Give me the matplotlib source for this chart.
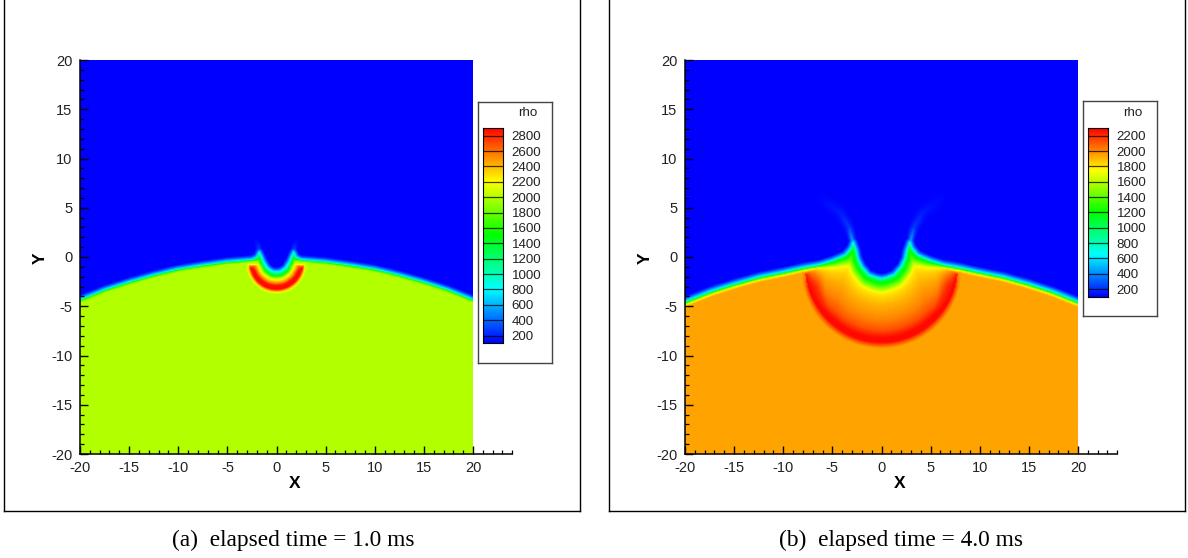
import numpy as np
import matplotlib
matplotlib.use("Agg")
import matplotlib.pyplot as plt
from matplotlib.colors import LinearSegmentedColormap, Normalize
from matplotlib.lines import Line2D
from matplotlib.ticker import MultipleLocator

W, H = 1188, 558
RANGE_A = (100, 2900)
RANGE_B = (100, 2300)
LEVELS_A = list(range(200, 3000, 200))
LEVELS_B = list(range(200, 2400, 200))

# free-surface profile, right half (mirrored)
SURF_X_A = [0, 0.4, 0.9, 1.3, 1.5, 1.75, 2.0, 2.5, 5, 7.5, 10, 12.5, 15, 17.5, 20]
SURF_Y_A = [-1.5, -1.45, -1.1, -0.5, 0.0, 0.5, 0.0, -0.25, -0.45, -0.8, -1.2, -1.8, -2.5, -3.3, -4.3]
SURF_X_B = [0, 0.5, 1.3, 2.0, 2.4, 2.6, 2.9, 3.1, 3.7, 5, 6.3, 8, 10, 12.5, 15, 17.5, 20]
SURF_Y_B = [-2.2, -2.1, -1.8, -1.0, -0.2, 0.7, 1.5, 0.9, 0.2, -0.35, -0.75, -1.05, -1.5, -2.0, -2.7, -3.5, -4.5]

# shock front: centre height, radius
SHOCK_A = (-0.65, 2.8)
SHOCK_B = (-1.1, 7.8)
LIQUID_A = 1990
LIQUID_B = 1945

# density across the shocked shell (0 = crater wall, 1 = front)
SHELL_T_A = [0, 0.22, 0.42, 0.58, 0.72, 0.90, 1.0]
SHELL_RHO_A = [800, 1500, 2200, 2500, 2850, 2880, 2500]
SHELL_T_B = [0, 0.02, 0.09, 0.22, 0.30, 0.42, 0.62, 0.78, 0.90, 0.97, 1.0]
SHELL_RHO_B = [650, 1000, 1250, 1780, 1850, 1920, 2010, 2120, 2280, 2280, 2150]

# density just behind the front, by distance from it
EDGE_A = [0, 0.15, 0.5, 0.9, 1.3]
EDGE_RHO_A = [2500, 2880, 2700, 2250, 1800]
EDGE_B = [0, 0.25, 0.9, 1.9, 3.0]
EDGE_RHO_B = [2150, 2280, 2200, 1950, 1700]
# height below the shock centre over which the thick band fades in
EDGE_FADE_A = 0.5
EDGE_FADE_B = 2.0

# density across the free surface (signed depth)
DEPTH_A = [-0.45, -0.25, 0, 0.12, 0.3]
DEPTH_RHO_A = [100, 350, 800, 1500, LIQUID_A]
DEPTH_B = [-0.5, -0.25, 0, 0.15, 0.35, 0.55]
DEPTH_RHO_B = [100, 350, 650, 1200, 1750, LIQUID_B]

# faint plumes above the right rim (mirrored): path, peak density, half width
PLUME_X_A = [1.75, 1.85, 2.0]
PLUME_Y_A = [0.4, 1.0, 1.6]
PLUME_PEAK_A = [500, 260, 110]
PLUME_W_A = [0.3, 0.45, 0.6]
PLUME_X_B = [2.9, 3.3, 4.2, 6.5]
PLUME_Y_B = [1.4, 3.0, 4.5, 6.2]
PLUME_PEAK_B = [560, 240, 165, 105]
PLUME_W_B = [0.4, 0.7, 1.0, 1.5]

CMAP = LinearSegmentedColormap.from_list(
    "small_rainbow", ["#0000ff", "#00ffff", "#00ff00", "#ffff00", "#ff0000"])


def seg_dist(X, Y, x0, y0, x1, y1):
    dx, dy = x1 - x0, y1 - y0
    t = np.clip(((X - x0) * dx + (Y - y0) * dy) / (dx * dx + dy * dy + 1e-12), 0, 1)
    return np.hypot(X - x0 - t * dx, Y - y0 - t * dy)


def field(sx, sy, shock, liquid, st, srho, ed, edrho, fade, dpt, drho, px, py, pp, pw):
    xs = np.r_[-np.array(sx)[::-1], np.array(sx)[1:]]
    ys = np.r_[np.array(sy)[::-1], np.array(sy)[1:]]
    g = np.linspace(-20, 20, 321)
    X, Y = np.meshgrid(g, g)
    D = np.full(X.shape, 1e9)
    for i in range(len(xs) - 1):
        D = np.minimum(D, seg_dist(X, Y, xs[i], ys[i], xs[i + 1], ys[i + 1]))
    d = np.where(Y < np.interp(X, xs, ys), D, -D)
    yc, R = shock
    e = R - np.hypot(X, Y - yc)
    base = np.interp(d, dpt, drho)
    dp = np.clip(d, 0, None)
    t = dp / np.maximum(dp + np.clip(e, 0, None), 1e-6)
    cap = np.interp(d, dpt[:-1] + [dpt[-1] * 1.5], drho[:-1] + [srho[-2]])
    weight = np.clip((yc - Y) / fade, 0, 1)
    tval = np.interp(t, st, srho)
    edge = np.where(e > ed[-1], 0, np.interp(e, ed, edrho))
    shell = tval + np.clip(edge - tval, 0, None) * weight
    shell = np.minimum(shell, liquid + (3000 - liquid) * weight)
    shell = np.minimum(shell, cap)
    w = 0.22 * (R ** 0.3)
    outer = srho[-1] + (liquid - srho[-1]) * np.clip(-e / w, 0, 1)
    outer = liquid + (outer - liquid) * weight
    rho = np.where(e > 0, shell, np.minimum(outer, cap))
    rho = np.where((d > 0) & (e > -w), rho, base)
    u = np.linspace(0, len(px) - 1, 40)
    idx = np.arange(len(px))
    sxp, syp = np.interp(u, idx, px), np.interp(u, idx, py)
    spk, swd = np.interp(u, idx, pp), np.interp(u, idx, pw)
    for sgn in (-1, 1):
        for a, b, p, q in zip(sxp, syp, spk, swd):
            r = np.hypot(X - sgn * a, Y - b) / q
            pl = 100 + (p - 100) * np.clip(1 - r, 0, 1) ** 1.5
            rho = np.where(d < 0, np.maximum(rho, pl), rho)
    return rho


plt.rcParams["font.family"] = ["Liberation Sans", "DejaVu Sans"]
plt.rcParams["axes.unicode_minus"] = False
fig = plt.figure(figsize=(W / 100, H / 100), dpi=100, facecolor="white")


def rect(l, t, r, b):
    return [l / W, 1 - b / H, (r - l) / W, (b - t) / H]


def panel(x0, rho, rng, levels, legend_bottom, bar_bottom, caption, cap_x):
    # outer frame
    fx0, fx1 = x0 - 76, x0 + 500
    for xa, ya, xb, yb in [(fx0, 0, fx0, 511), (fx0, 511, fx1, 511), (fx1, 511, fx1, 0)]:
        fig.add_artist(Line2D([xa / W, xb / W], [1 - ya / H, 1 - yb / H], color="black", lw=1.0))

    # plot: the x axis runs on to 24, past the field
    ax = fig.add_axes(rect(x0, 60, x0 + 432.3, 454))
    norm = Normalize(*rng)
    ax.imshow(rho, extent=(-20, 20, -20, 20), origin="lower", cmap=CMAP, norm=norm,
              interpolation="bilinear", aspect="auto", zorder=0)
    ax.set_xlim(-20, 24)
    ax.set_ylim(-20, 20)
    for s in ("top", "right"):
        ax.spines[s].set_visible(False)
    for s in ("left", "bottom"):
        ax.spines[s].set_linewidth(1.1)
    ax.patch.set_alpha(0)
    ax.set_xticks(range(-20, 25, 5))
    ax.set_xticklabels([str(v) if v <= 20 else "" for v in range(-20, 25, 5)])
    ax.set_yticks(range(-20, 25, 5))
    ax.xaxis.set_minor_locator(MultipleLocator(1))
    ax.yaxis.set_minor_locator(MultipleLocator(1))
    ax.tick_params(axis="both", which="major", direction="in", length=6, width=1.0,
                   labelsize=10.5, labelcolor="#222222")
    ax.tick_params(axis="x", which="major", pad=4.8)
    ax.tick_params(axis="y", which="major", pad=5.6)
    ax.tick_params(axis="both", which="minor", direction="in", length=2.6, width=0.9)
    ax.set_xlabel("X", fontsize=12.5, fontweight="bold")
    ax.xaxis.set_label_coords(215 / 432.3, -0.057)
    ax.set_ylabel("Y", fontsize=12.5, fontweight="bold")
    ax.yaxis.set_label_coords(-0.075, 0.497)

    # legend box
    bx = fig.add_axes(rect(x0 + 398, 101.5, x0 + 471.5, legend_bottom))
    bx.set_xticks([])
    bx.set_yticks([])
    for s in bx.spines.values():
        s.set_linewidth(1.0)
        s.set_color("#444444")
    bx.text(0.68, 1 - 11.5 / (legend_bottom - 101.5), "rho", transform=bx.transAxes,
            ha="center", va="center", fontsize=9.6, color="#222222")

    # colour bar
    cb = fig.add_axes(rect(x0 + 403.3, 128, x0 + 423.3, bar_bottom))
    grad = np.linspace(rng[0], rng[1], 256).reshape(-1, 1)
    cb.imshow(grad, extent=(0, 1, rng[0], rng[1]), origin="lower", cmap=CMAP, norm=norm,
              aspect="auto", interpolation="bilinear")
    cb.hlines(levels, 0, 1, color="black", lw=0.9, alpha=0.75)
    cb.set_xticks([])
    cb.set_ylim(*rng)
    cb.yaxis.tick_right()
    cb.set_yticks(levels)
    cb.tick_params(axis="y", length=0, labelsize=9.6, pad=8.5 * 0.72, labelcolor="#222222")
    for s in cb.spines.values():
        s.set_linewidth(0.8)

    fig.text(cap_x / W, 1 - 540 / H, caption, family=["Liberation Serif", "DejaVu Serif"],
             fontsize=16.8, ha="center", va="center")


rho_a = field(SURF_X_A, SURF_Y_A, SHOCK_A, LIQUID_A, SHELL_T_A, SHELL_RHO_A, EDGE_A, EDGE_RHO_A, EDGE_FADE_A,
              DEPTH_A, DEPTH_RHO_A, PLUME_X_A, PLUME_Y_A, PLUME_PEAK_A, PLUME_W_A)
rho_b = field(SURF_X_B, SURF_Y_B, SHOCK_B, LIQUID_B, SHELL_T_B, SHELL_RHO_B, EDGE_B, EDGE_RHO_B, EDGE_FADE_B,
              DEPTH_B, DEPTH_RHO_B, PLUME_X_B, PLUME_Y_B, PLUME_PEAK_B, PLUME_W_B)

panel(80, rho_a, RANGE_A, LEVELS_A, 362.5, 343.3, "(a)  elapsed time = 1.0 ms", 293)
panel(685, rho_b, RANGE_B, LEVELS_B, 315.5, 296.7, "(b)  elapsed time = 4.0 ms", 901)

fig.savefig("out.png", dpi=100)
